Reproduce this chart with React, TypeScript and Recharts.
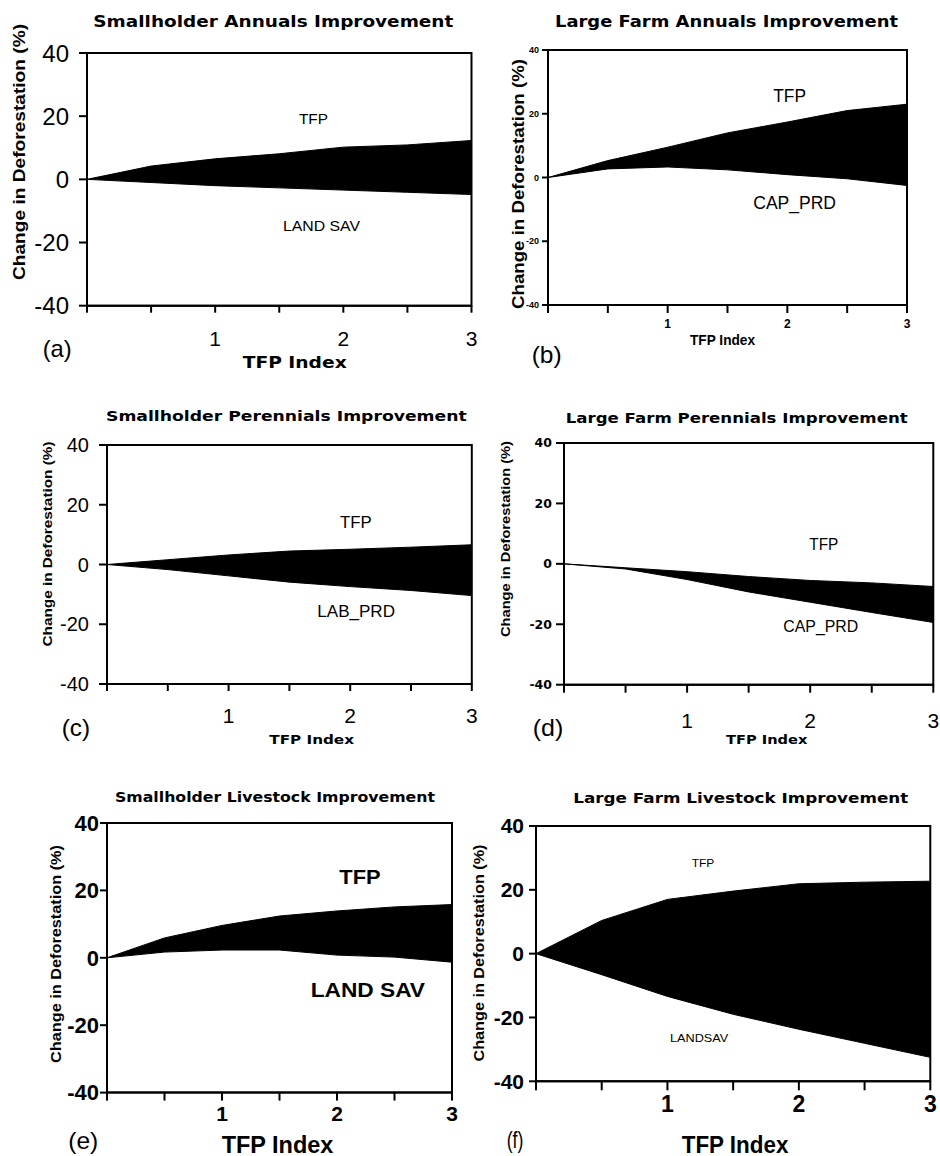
import { Area, ComposedChart, ReferenceArea, XAxis, YAxis } from "recharts";

// TFP index steps shared by all six panels
const TFP_INDEX = [0, 0.5, 1, 1.5, 2, 2.5, 3];
const X_TICKS = [0, 0.5, 1, 1.5, 2, 2.5, 3];
const Y_TICKS = [-40, -20, 0, 20, 40];

// (a) Smallholder annuals
const SA_TFP = [0, 4.2, 6.5, 8.1, 10.2, 10.9, 12.3];
const SA_LANDSAV = [0, -1.0, -2.0, -2.7, -3.4, -4.1, -4.8];
// (b) Large farm annuals
const LA_TFP = [0, 5.3, 9.5, 14.0, 17.4, 21.0, 23.0];
const LA_CAPPRD = [0, 2.7, 3.3, 2.4, 0.9, -0.4, -2.5];
// (c) Smallholder perennials
const SP_TFP = [0, 1.6, 3.2, 4.5, 5.1, 5.8, 6.6];
const SP_LABPRD = [0, -1.7, -3.8, -5.9, -7.4, -8.7, -10.4];
// (d) Large farm perennials
const LP_TFP = [0, -1.3, -2.6, -4.2, -5.5, -6.3, -7.5];
const LP_CAPPRD = [0, -1.7, -5.2, -9.3, -12.7, -16.1, -19.4];
// (e) Smallholder livestock
const SL_TFP = [0, 5.9, 9.6, 12.4, 13.9, 15.1, 15.8];
const SL_LANDSAV = [0, 1.7, 2.3, 2.3, 0.8, 0.2, -1.3];
// (f) Large farm livestock
const LL_TFP = [0, 10.4, 17.0, 19.6, 21.9, 22.4, 22.7];
const LL_LANDSAV = [0, -6.6, -13.4, -19.0, -23.7, -28.1, -32.5];

const WIDE = "'DejaVu Sans', sans-serif";
const ARIAL = "'Liberation Sans', Arial, sans-serif";
const NARROW = "'Liberation Sans Narrow', 'Liberation Sans', sans-serif";

function band(hi: number[], lo: number[]) {
  return TFP_INDEX.map((x, i) => ({ x, band: [lo[i], hi[i]] }));
}

type TickStyle = { fontSize: number; fontWeight: number; fontFamily: string };

type PanelCfg = {
  data: { x: number; band: number[] }[];
  box: [number, number, number, number]; // plot left, top, right, bottom
  yTick: TickStyle;
  xTick: TickStyle;
  ySize: number;
  yMargin: number;
  xSize: number;
  xMargin: number;
};

const panels: PanelCfg[] = [
  {
    data: band(SA_TFP, SA_LANDSAV),
    box: [87, 53.3, 471.5, 306],
    yTick: { fontSize: 24, fontWeight: 400, fontFamily: ARIAL },
    xTick: { fontSize: 21, fontWeight: 400, fontFamily: ARIAL },
    ySize: 8, yMargin: 10, xSize: 7, xMargin: 18,
  },
  {
    data: band(LA_TFP, LA_CAPPRD),
    box: [547.7, 50, 906.7, 305],
    yTick: { fontSize: 9, fontWeight: 700, fontFamily: ARIAL },
    xTick: { fontSize: 12, fontWeight: 700, fontFamily: NARROW },
    ySize: 6, yMargin: 3, xSize: 8, xMargin: 6,
  },
  {
    data: band(SP_TFP, SP_LABPRD),
    box: [106.7, 445, 471.5, 684],
    yTick: { fontSize: 20, fontWeight: 400, fontFamily: ARIAL },
    xTick: { fontSize: 21, fontWeight: 400, fontFamily: ARIAL },
    ySize: 8, yMargin: 10, xSize: 7, xMargin: 17,
  },
  {
    data: band(LP_TFP, LP_CAPPRD),
    box: [564, 443.3, 933.3, 685],
    yTick: { fontSize: 12.5, fontWeight: 700, fontFamily: WIDE },
    xTick: { fontSize: 21, fontWeight: 400, fontFamily: ARIAL },
    ySize: 8, yMargin: 4, xSize: 8, xMargin: 20,
  },
  {
    data: band(SL_TFP, SL_LANDSAV),
    box: [107.3, 822.7, 452.3, 1092.3],
    yTick: { fontSize: 22, fontWeight: 700, fontFamily: ARIAL },
    xTick: { fontSize: 21, fontWeight: 700, fontFamily: ARIAL },
    ySize: 7, yMargin: 1, xSize: 8, xMargin: 5,
  },
  {
    data: band(LL_TFP, LL_LANDSAV),
    box: [535.7, 825.7, 930, 1081],
    yTick: { fontSize: 21, fontWeight: 700, fontFamily: ARIAL },
    xTick: { fontSize: 23, fontWeight: 700, fontFamily: ARIAL },
    ySize: 7, yMargin: 5, xSize: 9, xMargin: 5,
  },
];

type Txt = {
  t: string; x: number; y: number; w: number; size: number;
  bold?: boolean; family?: string; rot?: boolean;
};

const texts: Txt[] = [
  // (a)
  { t: "Smallholder Annuals Improvement", x: 93.3, y: 26.7, w: 360, size: 16, bold: true, family: WIDE },
  { t: "Change in Deforestation (%)", x: 25, y: 152, w: 256, size: 17, bold: true, rot: true },
  { t: "TFP Index", x: 242.7, y: 368.3, w: 104, size: 16, bold: true, family: WIDE },
  { t: "(a)", x: 42.7, y: 357, w: 29, size: 24 },
  { t: "TFP", x: 299, y: 124, w: 29, size: 15 },
  { t: "LAND SAV", x: 283, y: 230.7, w: 77, size: 15 },
  // (b)
  { t: "Large Farm Annuals Improvement", x: 555, y: 26.7, w: 343, size: 16, bold: true, family: WIDE },
  { t: "Change in Deforestation (%)", x: 523.5, y: 184, w: 250, size: 17, bold: true, rot: true },
  { t: "TFP Index", x: 690, y: 345, w: 65, size: 14.5, bold: true, family: NARROW },
  { t: "(b)", x: 531.7, y: 363, w: 30, size: 24 },
  { t: "TFP", x: 773.3, y: 102.3, w: 32.7, size: 18 },
  { t: "CAP_PRD", x: 753.3, y: 209.3, w: 82.7, size: 18 },
  // (c)
  { t: "Smallholder Perennials Improvement", x: 106, y: 421, w: 360.7, size: 14, bold: true, family: WIDE },
  { t: "Change in Deforestation (%)", x: 52.3, y: 544, w: 205, size: 13, bold: true, rot: true },
  { t: "TFP Index", x: 269.3, y: 744, w: 84.7, size: 12.5, bold: true, family: WIDE },
  { t: "(c)", x: 61.7, y: 735.5, w: 28.3, size: 24 },
  { t: "TFP", x: 340, y: 528.3, w: 31.7, size: 16 },
  { t: "LAB_PRD", x: 317.3, y: 616.7, w: 77.7, size: 16 },
  // (d)
  { t: "Large Farm Perennials Improvement", x: 565.7, y: 423.3, w: 342, size: 14.5, bold: true, family: WIDE },
  { t: "Change in Deforestation (%)", x: 510, y: 539, w: 196, size: 13, bold: true, rot: true },
  { t: "TFP Index", x: 726, y: 744, w: 81.3, size: 12.5, bold: true, family: WIDE },
  { t: "(d)", x: 532.7, y: 736, w: 30.6, size: 24 },
  { t: "TFP", x: 809.3, y: 550, w: 29, size: 16.5 },
  { t: "CAP_PRD", x: 783.3, y: 631.7, w: 75, size: 16.5 },
  // (e)
  { t: "Smallholder Livestock Improvement", x: 115, y: 801.7, w: 320, size: 14.5, bold: true, family: WIDE },
  { t: "Change in Deforestation (%)", x: 60.7, y: 954, w: 218, size: 14, bold: true, rot: true },
  { t: "TFP Index", x: 221.7, y: 1152.7, w: 111.7, size: 23, bold: true },
  { t: "(e)", x: 68.3, y: 1148.5, w: 30, size: 24 },
  { t: "TFP", x: 339.3, y: 884, w: 41.3, size: 20, bold: true },
  { t: "LAND SAV", x: 310.7, y: 996.7, w: 114.3, size: 20, bold: true },
  // (f)
  { t: "Large Farm Livestock Improvement", x: 573.3, y: 802.7, w: 335, size: 14.5, bold: true, family: WIDE },
  { t: "Change in Deforestation (%)", x: 484.3, y: 953, w: 217, size: 15, bold: true, rot: true },
  { t: "TFP Index", x: 681.7, y: 1152.7, w: 106.7, size: 24.5, bold: true },
  { t: "(f)", x: 506.7, y: 1148, w: 16.7, size: 24 },
  { t: "TFP", x: 691.7, y: 867.3, w: 22.7, size: 10 },
  { t: "LANDSAV", x: 670, y: 1042.3, w: 58.3, size: 11 },
];

const xFmt = (v: number) => (Number.isInteger(v) && v > 0 ? String(v) : "");

function Panel({ p }: { p: PanelCfg }) {
  const [x0, y0, x1, y1] = p.box;
  const W = x1 - x0 + 110;
  const H = y1 - y0 + 80;
  const line = { stroke: "#000", strokeWidth: 2 };
  return (
    <div style={{ position: "absolute", left: x0 - 100, top: y0 - 20 }}>
      <ComposedChart
        width={W}
        height={H}
        data={p.data}
        margin={{ top: 20, right: 10, left: 0, bottom: 0 }}
      >
        <XAxis
          type="number"
          dataKey="x"
          domain={[0, 3]}
          ticks={X_TICKS}
          interval={0}
          tickFormatter={xFmt}
          height={60}
          axisLine={line}
          tickLine={line}
          tickSize={p.xSize}
          tickMargin={p.xMargin}
          tick={{ ...p.xTick, fill: "#000" }}
        />
        <YAxis
          type="number"
          domain={[-40, 40]}
          ticks={Y_TICKS}
          interval={0}
          width={100}
          axisLine={line}
          tickLine={line}
          tickSize={p.ySize}
          tickMargin={p.yMargin}
          tick={{ ...p.yTick, fill: "#000" }}
        />
        <Area
          type="linear"
          dataKey="band"
          fill="#000"
          fillOpacity={1}
          stroke="#000"
          strokeWidth={1}
          dot={false}
          activeDot={false}
          isAnimationActive={false}
        />
        <ReferenceArea x1={0} x2={3} y1={-40} y2={40} fill="none" stroke="#000" strokeWidth={2} />
      </ComposedChart>
    </div>
  );
}

export default function App() {
  return (
    <div
      style={{
        position: "absolute",
        left: 0,
        top: 0,
        width: 940,
        height: 1156,
        background: "#fff",
        overflow: "hidden",
      }}
    >
      {panels.map((p, i) => (
        <Panel key={i} p={p} />
      ))}
      <svg
        width={940}
        height={1156}
        style={{ position: "absolute", left: 0, top: 0, pointerEvents: "none" }}
      >
        {texts.map((d, i) => (
          <text
            key={i}
            x={d.x}
            y={d.y}
            textLength={d.w}
            lengthAdjust="spacingAndGlyphs"
            textAnchor={d.rot ? "middle" : "start"}
            transform={d.rot ? `rotate(-90 ${d.x} ${d.y})` : undefined}
            fontSize={d.size}
            fontWeight={d.bold ? 700 : 400}
            fontFamily={d.family ?? ARIAL}
            fill="#000"
          >
            {d.t}
          </text>
        ))}
      </svg>
    </div>
  );
}
